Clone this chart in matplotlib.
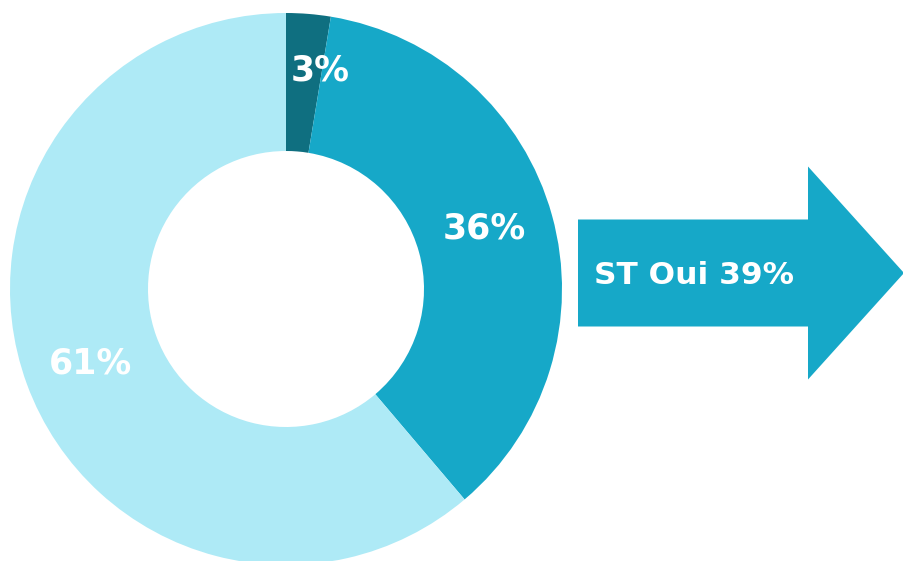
import matplotlib
matplotlib.use("Agg")
import matplotlib.pyplot as plt
import matplotlib.patches as mpatches

# data
labels = ["ST Oui (fort)", "ST Oui", "ST Non"]
values = [2.6, 36.2, 61.2]
colors = ["#0F6F80", "#16A8C8", "#AEEAF6"]
arrow_text = "ST Oui 39%"

fig = plt.figure(figsize=(9.04, 5.61), dpi=100)
ax = fig.add_axes([0, 0, 1, 1])
ax.set_facecolor("white")

wedges, texts, autotexts = ax.pie(
    values, colors=colors, startangle=90, counterclock=False,
    center=(286, 272), radius=276, frame=True,
    wedgeprops=dict(width=138, linewidth=0),
    autopct=lambda p: f"{p:.0f}%", pctdistance=0.75,
    textprops=dict(color="white", fontsize=25, fontweight="bold"),
)
# label positions as placed in the original
for t, pos in zip(autotexts, [(320, 491), (484, 333), (91, 197)]):
    t.set_position(pos)

# arrow: body + head
ax.add_patch(mpatches.FancyArrow(
    578, 288, 326, 0, width=107, head_width=213, head_length=96,
    length_includes_head=True, color="#16A8C8", linewidth=0))
ax.text(694, 286, arrow_text, ha="center", va="center",
        color="white", fontsize=22.5, fontweight="bold")

ax.set_xlim(0, 904)
ax.set_ylim(0, 561)
ax.set_aspect("auto")
ax.axis("off")

fig.savefig("out.png", dpi=100, facecolor="white")
